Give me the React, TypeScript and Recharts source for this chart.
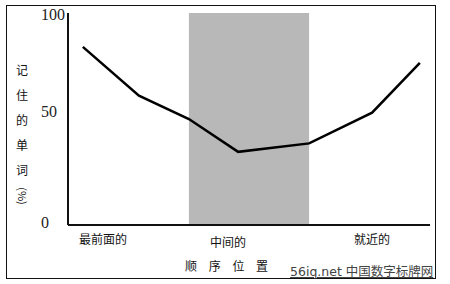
import { ComposedChart, Line, XAxis, YAxis, ReferenceArea, Label } from "recharts";

// serial-position curve: position along the list (0-100) vs % words recalled
const positions = [4.1, 19.6, 33.4, 47, 66.6, 84, 97.2];
const recalled = [84, 61, 50, 34.5, 38.5, 53, 76.5];

const xTickPos = [9.7, 44.2, 84];
const xTickLabels = ["最前面的", "中间的", "就近的"];
const yTicks = [0, 50, 100];

const middleBand = [33.4, 66.6];

const data = positions.map((pos, i) => ({ pos, value: recalled[i] }));

const cjk = '"Noto Sans CJK SC", sans-serif';
const yLabelChars = ["记", "住", "的", "单", "词"];
const xLabelChars = ["顺", "序", "位", "置"];

function XTick(props: any) {
  const { x, y, index } = props;
  const dy = index === 1 ? 14 : 11;
  return (
    <text x={x} y={y + dy} textAnchor="middle" fontFamily={cjk} fontSize={12} fill="#111">
      {xTickLabels[index]}
    </text>
  );
}

function YTick(props: any) {
  const { y, payload } = props;
  const shift: Record<number, number> = { 0: 3, 50: -2, 100: 7 };
  return (
    <text
      x={41}
      y={y + (shift[payload.value] ?? 0)}
      textAnchor="start"
      fontFamily='"Liberation Serif", serif'
      fontSize={16}
      fill="#222"
    >
      {payload.value}
    </text>
  );
}

function YLabel() {
  return (
    <g fontFamily={cjk} fontSize={12} fill="#111">
      {yLabelChars.map((c, i) => (
        <text key={c + i} x={22} y={75 + i * 25} textAnchor="middle">
          {c}
        </text>
      ))}
      <text x={22} y={200} textAnchor="middle" fontSize={11} transform="rotate(90 22 196)">
        (%)
      </text>
    </g>
  );
}

function XLabel() {
  return (
    <g fontFamily={cjk} fontSize={12} fill="#111">
      {xLabelChars.map((c, i) => (
        <text key={c} x={191 + i * 23.7} y={271} textAnchor="middle">
          {c}
        </text>
      ))}
    </g>
  );
}

export default function App() {
  return (
    <div style={{ position: "absolute", left: 0, top: 0, width: 450, height: 284, background: "#fff" }}>
      <div
        style={{
          position: "absolute",
          left: 6,
          top: 5,
          width: 428,
          height: 272,
          border: "1px solid #111",
        }}
      />
      <div style={{ position: "absolute", left: 0, top: 0 }}>
        <ComposedChart width={450} height={284} data={data} margin={{ top: 13, right: 20, bottom: 0, left: 0 }}>
          <ReferenceArea
            x1={middleBand[0]}
            x2={middleBand[1]}
            y1={0}
            y2={100}
            fill="#b8b8b8"
            fillOpacity={1}
            stroke="none"
          />
          <XAxis
            type="number"
            dataKey="pos"
            domain={[0, 100]}
            ticks={xTickPos}
            tick={<XTick />}
            tickLine={false}
            axisLine={{ stroke: "#111", strokeWidth: 2 }}
            interval={0}
            height={59}
          >
            <Label content={<XLabel />} />
          </XAxis>
          <YAxis
            type="number"
            domain={[0, 100]}
            ticks={yTicks}
            tick={<YTick />}
            tickLine={false}
            axisLine={{ stroke: "#111", strokeWidth: 2 }}
            width={68}
          >
            <Label content={<YLabel />} />
          </YAxis>
          <Line
            type="linear"
            dataKey="value"
            stroke="#000"
            strokeWidth={2.5}
            dot={false}
            isAnimationActive={false}
          />
        </ComposedChart>
      </div>
      <div
        style={{
          position: "absolute",
          left: 290,
          top: 264,
          fontFamily: '"DejaVu Sans", "Noto Sans CJK SC", sans-serif',
          fontSize: 12.5,
          color: "#444",
          textDecoration: "underline",
          whiteSpace: "nowrap",
          lineHeight: "15px",
        }}
      >
        56iq.net 中国数字标牌网
      </div>
    </div>
  );
}
